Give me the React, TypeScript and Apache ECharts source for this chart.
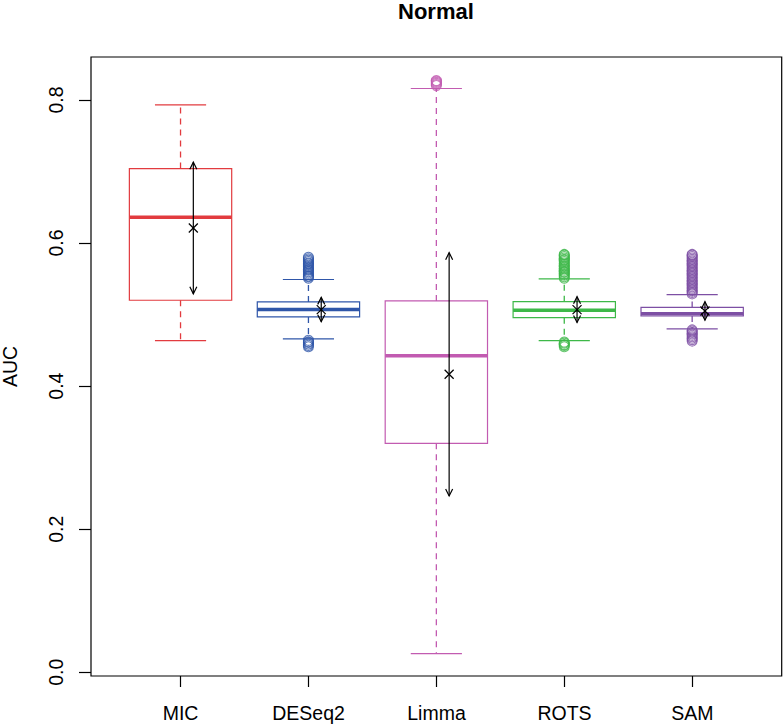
import React, { useEffect, useRef } from "react";
import * as echarts from "echarts";

const methods = ["MIC", "DESeq2", "Limma", "ROTS", "SAM"];
const colors = ["#E23B3F", "#2F56A9", "#C25BB1", "#3DB848", "#7D4FA4"];

const lowerWhisker = [0.4635, 0.466, 0.026, 0.4635, 0.48];
const q1 = [0.52, 0.4967, 0.32, 0.4957, 0.498];
const median = [0.636, 0.507, 0.4426, 0.506, 0.501];
const q3 = [0.704, 0.5176, 0.519, 0.518, 0.51];
const upperWhisker = [0.793, 0.549, 0.816, 0.55, 0.528];
const means = [0.621, 0.507, 0.4165, 0.507, 0.505];
const sds = [0.092, 0.017, 0.17, 0.018, 0.013];

const outliersMIC: number[] = [];
const outliersDESeq2 = [
  0.551, 0.553, 0.554, 0.556, 0.558, 0.56, 0.562, 0.563, 0.565, 0.567, 0.569, 0.571,
  0.572, 0.574, 0.576, 0.578, 0.58, 0.464, 0.462, 0.461, 0.459, 0.457, 0.455,
];
const outliersLimma = [0.82, 0.8215, 0.823, 0.8245, 0.826, 0.827];
const outliersROTS = [
  0.551, 0.553, 0.555, 0.557, 0.559, 0.56, 0.562, 0.564, 0.566, 0.568, 0.57, 0.572,
  0.574, 0.576, 0.577, 0.579, 0.581, 0.583, 0.584, 0.4615, 0.46, 0.458, 0.457, 0.455,
];
const outliersSAM = [
  0.529, 0.531, 0.533, 0.535, 0.537, 0.539, 0.541, 0.543, 0.545, 0.547, 0.549, 0.551,
  0.553, 0.555, 0.557, 0.559, 0.561, 0.563, 0.565, 0.567, 0.569, 0.571, 0.573, 0.575,
  0.577, 0.579, 0.581, 0.583, 0.584, 0.4785, 0.477, 0.475, 0.473, 0.471, 0.469, 0.467,
  0.465, 0.463,
];
const outliers = [outliersMIC, outliersDESeq2, outliersLimma, outliersROTS, outliersSAM];

const yTicks = [0, 0.2, 0.4, 0.6, 0.8];
const titleText = "Normal";
const yName = "AUC";

const FONT = "'Liberation Sans', Arial, Helvetica, sans-serif";

export default function App() {
  const ref = useRef<HTMLDivElement>(null);
  useEffect(() => {
    if (!ref.current) return;
    const chart = echarts.init(ref.current, undefined, { renderer: "svg" });

    const boxData = methods.map((_, i) => [
      i + 1,
      lowerWhisker[i],
      q1[i],
      median[i],
      q3[i],
      upperWhisker[i],
      means[i],
      sds[i],
    ]);

    const renderItem = (params: any, api: any) => {
      const x = api.value(0);
      const lw = api.value(1);
      const b1 = api.value(2);
      const med = api.value(3);
      const b3 = api.value(4);
      const uw = api.value(5);
      const mean = api.value(6);
      const sd = api.value(7);
      const c = colors[params.dataIndex];
      const p = (dx: number, v: number) => api.coord([x + dx, v]);
      const line = (a: number[], b: number[], style: any) => ({
        type: "line",
        shape: { x1: a[0], y1: a[1], x2: b[0], y2: b[1] },
        style,
      });
      const thin = { stroke: c, lineWidth: 1.2 };
      const dashed = { stroke: c, lineWidth: 1.3, lineDash: [6, 5] };
      const children: any[] = [];
      children.push(line(p(0, b3), p(0, uw), dashed));
      children.push(line(p(0, b1), p(0, lw), dashed));
      children.push(line(p(-0.2, uw), p(0.2, uw), thin));
      children.push(line(p(-0.2, lw), p(0.2, lw), thin));
      const tl = p(-0.4, b3);
      const br = p(0.4, b1);
      children.push({
        type: "rect",
        shape: { x: tl[0], y: tl[1], width: br[0] - tl[0], height: br[1] - tl[1] },
        style: { fill: "none", stroke: c, lineWidth: 1.2 },
      });
      children.push(line(p(-0.4, med), p(0.4, med), { stroke: c, lineWidth: 3.5 }));
      // mean +/- sd arrow
      const top = p(0.1, mean + sd);
      const bot = p(0.1, mean - sd);
      const blk = { stroke: "#000", lineWidth: 1.2, fill: "none" };
      children.push(line(top, bot, blk));
      children.push({
        type: "polyline",
        shape: { points: [[top[0] - 3.5, top[1] + 7], top, [top[0] + 3.5, top[1] + 7]] },
        style: blk,
      });
      children.push({
        type: "polyline",
        shape: { points: [[bot[0] - 3.5, bot[1] - 7], bot, [bot[0] + 3.5, bot[1] - 7]] },
        style: blk,
      });
      const m = p(0.1, mean);
      const s = 4.5;
      children.push(line([m[0] - s, m[1] - s], [m[0] + s, m[1] + s], blk));
      children.push(line([m[0] - s, m[1] + s], [m[0] + s, m[1] - s], blk));
      return { type: "group", children };
    };

    const scatterSeries = outliers.map((arr, i) => ({
      type: "scatter",
      xAxisIndex: 0,
      yAxisIndex: 0,
      data: arr.map((v) => [i + 1, v]),
      symbol: "circle",
      symbolSize: 10,
      silent: true,
      itemStyle: { color: "rgba(255,255,255,0)", borderColor: colors[i], borderWidth: 1.1 },
      z: 2,
    }));

    chart.setOption({
      animation: false,
      backgroundColor: "#ffffff",
      title: {
        text: titleText,
        left: 398,
        top: 0,
        padding: 0,
        textStyle: { fontSize: 22, fontWeight: "bold", color: "#000", fontFamily: FONT },
      },
      grid: [
        { left: 91, right: 1.3, top: 57, bottom: 48, show: true, borderColor: "#000", borderWidth: 1.2, backgroundColor: "transparent", outerBoundsMode: "none", containLabel: false },
        { left: 91, right: 1.3, top: 100, bottom: 51.7, outerBoundsMode: "none", containLabel: false },
        { left: 116.6, right: 26.6, top: 57, bottom: 48, outerBoundsMode: "none", containLabel: false },
      ],
      xAxis: [
        { gridIndex: 0, type: "value", min: 0.3, max: 5.7, show: false },
        { gridIndex: 1, type: "value", min: 0, max: 1, show: false },
        {
          gridIndex: 2,
          type: "category",
          data: methods,
          boundaryGap: true,
          axisLine: { show: false },
          axisTick: { show: true, alignWithLabel: true, length: 11, lineStyle: { color: "#000", width: 1.2 } },
          axisLabel: { interval: 0, margin: 27, fontSize: 19.5, color: "#000", fontFamily: FONT },
          splitLine: { show: false },
        },
      ],
      yAxis: [
        {
          gridIndex: 0,
          type: "value",
          min: -0.0052,
          max: 0.86,
          name: yName,
          nameLocation: "middle",
          nameRotate: 90,
          nameGap: 71,
          nameTextStyle: { fontSize: 19.5, color: "#000", fontFamily: FONT },
          axisLine: { show: false },
          axisTick: { show: false },
          axisLabel: { show: false },
          splitLine: { show: false },
        },
        {
          gridIndex: 1,
          type: "value",
          min: yTicks[0],
          max: yTicks[yTicks.length - 1],
          interval: 0.2,
          axisLine: { show: false },
          axisTick: { show: true, length: 12, lineStyle: { color: "#000", width: 1.2 } },
          axisLabel: {
            rotate: 90,
            margin: 25,
            fontSize: 19.5,
            color: "#000",
            fontFamily: FONT,
            formatter: (v: number) => v.toFixed(1),
          },
          splitLine: { show: false },
        },
        { gridIndex: 2, type: "value", show: false },
      ],
      series: [
        ...scatterSeries,
        {
          type: "custom",
          xAxisIndex: 0,
          yAxisIndex: 0,
          data: boxData,
          encode: { x: 0, y: [1, 2, 3, 4, 5] },
          renderItem,
          clip: false,
          silent: true,
          z: 3,
        },
      ],
    });
    return () => chart.dispose();
  }, []);
  return (
    <div
      ref={ref}
      style={{ position: "fixed", left: 0, top: 0, width: 783, height: 724, background: "#fff" }}
    />
  );
}
